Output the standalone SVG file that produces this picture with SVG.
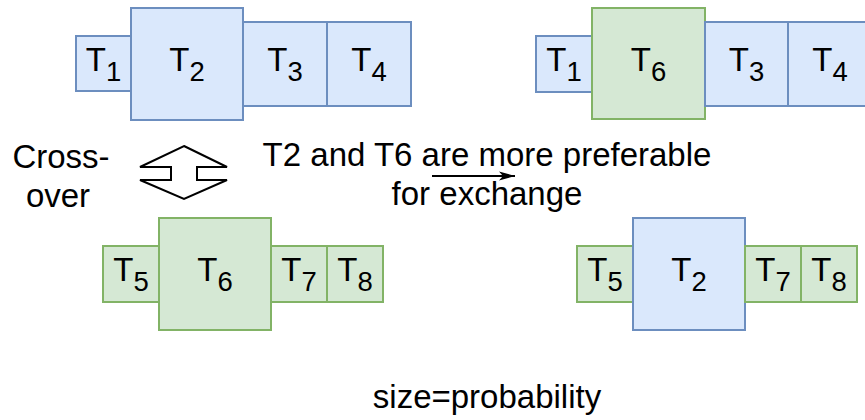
<svg xmlns="http://www.w3.org/2000/svg" width="865" height="420" viewBox="0 0 865 420">
<style>
text{font-family:"Liberation Sans",Arial,Helvetica,sans-serif;font-size:33px;fill:#000}
.lbl{text-anchor:middle}
.sub{font-size:27.5px}
.b{fill:#dae8fc;stroke:#6c8ebf;stroke-width:2}
.g{fill:#d5e8d4;stroke:#82b366;stroke-width:2}
</style>
<defs>
<marker id="ah" viewBox="0 0 16 10" refX="16" refY="5" markerWidth="16" markerHeight="10" markerUnits="userSpaceOnUse" orient="auto">
<path d="M0,0.5 L16,5 L0,9.5 L4,5 Z" fill="#000"/>
</marker>
</defs>
<rect width="865" height="420" fill="#fff"/>

<!-- top-left row -->
<g id="tl-t1"><rect class="b" x="76" y="36" width="55" height="55"/><text class="lbl" x="103.5" y="71">T<tspan class="sub" dy="10">1</tspan></text></g>
<g id="tl-t2"><rect class="b" x="131" y="8" width="112" height="112"/><text class="lbl" x="187" y="71">T<tspan class="sub" dy="10">2</tspan></text></g>
<g id="tl-t3"><rect class="b" x="243" y="22" width="84" height="84"/><text class="lbl" x="285" y="71">T<tspan class="sub" dy="10">3</tspan></text></g>
<g id="tl-t4"><rect class="b" x="327" y="22" width="84" height="84"/><text class="lbl" x="369" y="71">T<tspan class="sub" dy="10">4</tspan></text></g>

<!-- top-right row -->
<g id="tr-t1"><rect class="b" x="536" y="36" width="56" height="56"/><text class="lbl" x="564" y="71">T<tspan class="sub" dy="10">1</tspan></text></g>
<g id="tr-t6"><rect class="g" x="592" y="8" width="113" height="111"/><text class="lbl" x="648.5" y="71">T<tspan class="sub" dy="10">6</tspan></text></g>
<g id="tr-t3"><rect class="b" x="705" y="22" width="83" height="84"/><text class="lbl" x="746.5" y="71">T<tspan class="sub" dy="10">3</tspan></text></g>
<g id="tr-t4"><rect class="b" x="788" y="22" width="84" height="84"/><text class="lbl" x="830" y="71">T<tspan class="sub" dy="10">4</tspan></text></g>

<!-- bottom-left row -->
<g id="bl-t5"><rect class="g" x="103" y="246" width="56" height="56"/><text class="lbl" x="131" y="281">T<tspan class="sub" dy="10">5</tspan></text></g>
<g id="bl-t6"><rect class="g" x="159" y="218" width="112" height="112"/><text class="lbl" x="215" y="281">T<tspan class="sub" dy="10">6</tspan></text></g>
<g id="bl-t7"><rect class="g" x="271" y="246" width="56" height="56"/><text class="lbl" x="299" y="281">T<tspan class="sub" dy="10">7</tspan></text></g>
<g id="bl-t8"><rect class="g" x="327" y="246" width="56" height="56"/><text class="lbl" x="355" y="281">T<tspan class="sub" dy="10">8</tspan></text></g>

<!-- bottom-right row -->
<g id="br-t5"><rect class="g" x="577" y="246" width="56" height="56"/><text class="lbl" x="605" y="281">T<tspan class="sub" dy="10">5</tspan></text></g>
<g id="br-t2"><rect class="b" x="633" y="218" width="112" height="112"/><text class="lbl" x="689" y="281">T<tspan class="sub" dy="10">2</tspan></text></g>
<g id="br-t7"><rect class="g" x="745" y="246" width="56" height="56"/><text class="lbl" x="773" y="281">T<tspan class="sub" dy="10">7</tspan></text></g>
<g id="br-t8"><rect class="g" x="801" y="246" width="56" height="56"/><text class="lbl" x="829" y="281">T<tspan class="sub" dy="10">8</tspan></text></g>

<!-- crossover symbol -->
<g id="crossover">
<path d="M184,146 L227,167 L197,167 L197,180 L227,180 L184,199 L140,180 L171,180 L171,167 L140,167 Z" fill="#fff" stroke="#000" stroke-width="2" stroke-linejoin="miter"/>
<text class="lbl" x="61" y="168">Cross-</text>
<text class="lbl" x="58" y="207">over</text>
</g>

<g id="note">
<text class="lbl" x="487" y="166">T2 and T6 are more preferable</text>
<text class="lbl" x="487" y="205">for exchange</text>
</g>

<g id="connectors">
<line x1="432" y1="176" x2="515" y2="176" stroke="#000" stroke-width="2" marker-end="url(#ah)"/>
</g>

<g id="legend"><text class="lbl" x="487" y="408">size=probability</text></g>
</svg>
